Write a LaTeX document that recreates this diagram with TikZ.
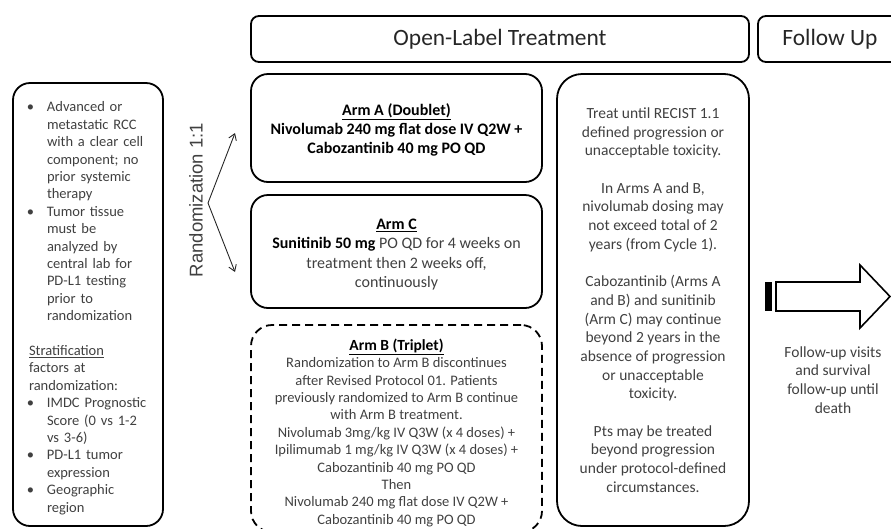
\documentclass[tikz,border=0pt]{standalone}
\usepackage{fontspec}
\setmainfont{Carlito}
\newfontfamily\randfont{Liberation Sans}
\usepackage{tikz}
\usetikzlibrary{
  arrows.meta,
  positioning
}
\definecolor{textgray}{RGB}{64,64,64}
\definecolor{headgray}{RGB}{38,38,38}
\tikzset{
  basebox/.style={rectangle,draw=black,line width=1.8pt,align=center,text=textgray,inner sep=0pt,outer sep=0pt},
  headbox/.style={basebox,rounded corners=8pt,minimum height=46pt,text=headgray,font=\fontsize{23.4}{27}\selectfont},
  armbox/.style={basebox,rounded corners=17pt,minimum width=291pt,text=black,font=\fontsize{16}{19.2}\selectfont},
  dashbox/.style={armbox,dash pattern=on 8pt off 5pt,rounded corners=21pt,text=textgray,font=\fontsize{14.5}{17.4}\selectfont},
  notebox/.style={basebox,rounded corners=25pt,font=\fontsize{15.5}{18.7}\selectfont},
  eligbox/.style={basebox,rounded corners=17pt,align=left,text width=118pt,font=\fontsize{14.5}{17.4}\selectfont},
  plaintext/.style={align=center,text=textgray,inner sep=0pt,font=\fontsize{15.5}{18.7}\selectfont},
  randarr/.style={-{Straight Barb[length=6pt,width=8pt]},line width=0.9pt,color=black!85},
  blockarr/.style={draw=black,fill=white,line width=1.6pt,line join=miter}
}
\newcommand{\armtitle}[1]{\textcolor{black}{\textbf{\underline{#1}}}}
\newcommand{\bk}[1]{\textcolor{black}{\textbf{#1}}}
\newcommand{\bitem}{\par\noindent\hangindent=18pt\hangafter=0\hspace*{0pt}\llap{\textbullet\hspace{13pt}}}

\begin{document}
\begin{tikzpicture}[x=1pt,y=-1pt]
  \useasboundingbox (0,0) rectangle (891,528);
  \clip (0,0) rectangle (891,528);

  %% Phase headers
  \node[headbox,minimum width=498pt,anchor=north west] (openhdr) at (251,16) {Open-Label Treatment};
  \node[headbox,minimum width=144pt,right=9pt of openhdr] (followhdr) {Follow Up};

  %% Arm A (Doublet)
  \node[armbox,minimum height=108pt,below=12pt of openhdr.south west,anchor=north west] (armA)
    {\rule{0pt}{16pt}\armtitle{Arm A (Doublet)}\\\textbf{Nivolumab 240 mg flat dose IV Q2W +}\\\textbf{Cabozantinib 40 mg PO QD}};

  %% Arm C
  \node[armbox,text=textgray,minimum height=113pt,font=\fontsize{16}{19.5}\selectfont,below=13pt of armA] (armC)
    {\rule{0pt}{17pt}\armtitle{Arm C}\\\bk{Sunitinib 50 mg} PO QD for 4 weeks on\\treatment then 2 weeks off,\\continuously};

  %% Arm B (Triplet), discontinued
  \node[dashbox,minimum height=207pt,below=17pt of armC] (armB)
    {\rule{0pt}{20pt}{\fontsize{15.5}{17.4}\selectfont\armtitle{Arm B (Triplet)}}\\Randomization to Arm B discontinues\\after Revised Protocol 01. Patients\\previously randomized to Arm B continue\\with Arm B treatment.\\Nivolumab 3mg/kg IV Q3W (x 4 doses) +\\Ipilimumab 1 mg/kg IV Q3W (x 4 doses) +\\Cabozantinib 40 mg PO QD\\Then\\Nivolumab 240 mg flat dose IV Q2W +\\Cabozantinib 40 mg PO QD};

  %% Treatment duration notes
  \node[notebox,minimum width=192pt,minimum height=452pt,right=15pt of armA.north east,anchor=north west] (notes)
    {Treat until RECIST 1.1\\defined progression or\\unacceptable toxicity.\\[18.7pt]In Arms A and B,\\nivolumab dosing may\\not exceed total of 2\\years (from Cycle 1).\\[18.7pt]Cabozantinib (Arms A\\and B) and sunitinib\\(Arm C) may continue\\beyond 2 years in the\\absence of progression\\or unacceptable\\toxicity.\\[18.7pt]Pts may be treated\\beyond progression\\under protocol-defined\\circumstances.};

  %% Eligibility and stratification
  \node[eligbox,minimum width=150pt,minimum height=443pt,anchor=north west] (elig) at (13,83)
    {\parskip=0pt
     \bitem Advanced or\newline metastatic RCC\newline with a clear cell\newline component; no\newline prior systemic\newline therapy
     \bitem Tumor tissue\newline must be\newline analyzed by\newline central lab for\newline PD-L1 testing\newline prior to\newline randomization\par
     \vspace{17.4pt}
     \noindent\underline{Stratification}\newline factors at\newline randomization:
     \bitem IMDC Prognostic\newline Score (0 vs 1-2\newline vs 3-6)
     \bitem PD-L1 tumor\newline expression
     \bitem Geographic\newline region\par};

  %% Randomization
  \node[rotate=90,text=textgray,inner sep=0pt,font=\randfont\fontsize{18.5}{22}\selectfont] (rand) at (196,200) {Randomization 1:1};
  \coordinate (fork) at (208,203);
  \coordinate (tipA) at (235,133);
  \coordinate (tipC) at (235,272);
  \draw[randarr] (fork) -- (tipA);
  \draw[randarr] (fork) -- (tipC);

  %% Follow-up arrow
  \fill[black] (765,282) rectangle (772,311);
  \path[blockarr] (776,282) -- (860,282) -- (860,265) -- (890,296.5) -- (860,328) -- (860,311) -- (776,311) -- cycle;
  \node[plaintext] (fupnote) at (833,380) {Follow-up visits\\and survival\\follow-up until\\death};
\end{tikzpicture}
\end{document}
